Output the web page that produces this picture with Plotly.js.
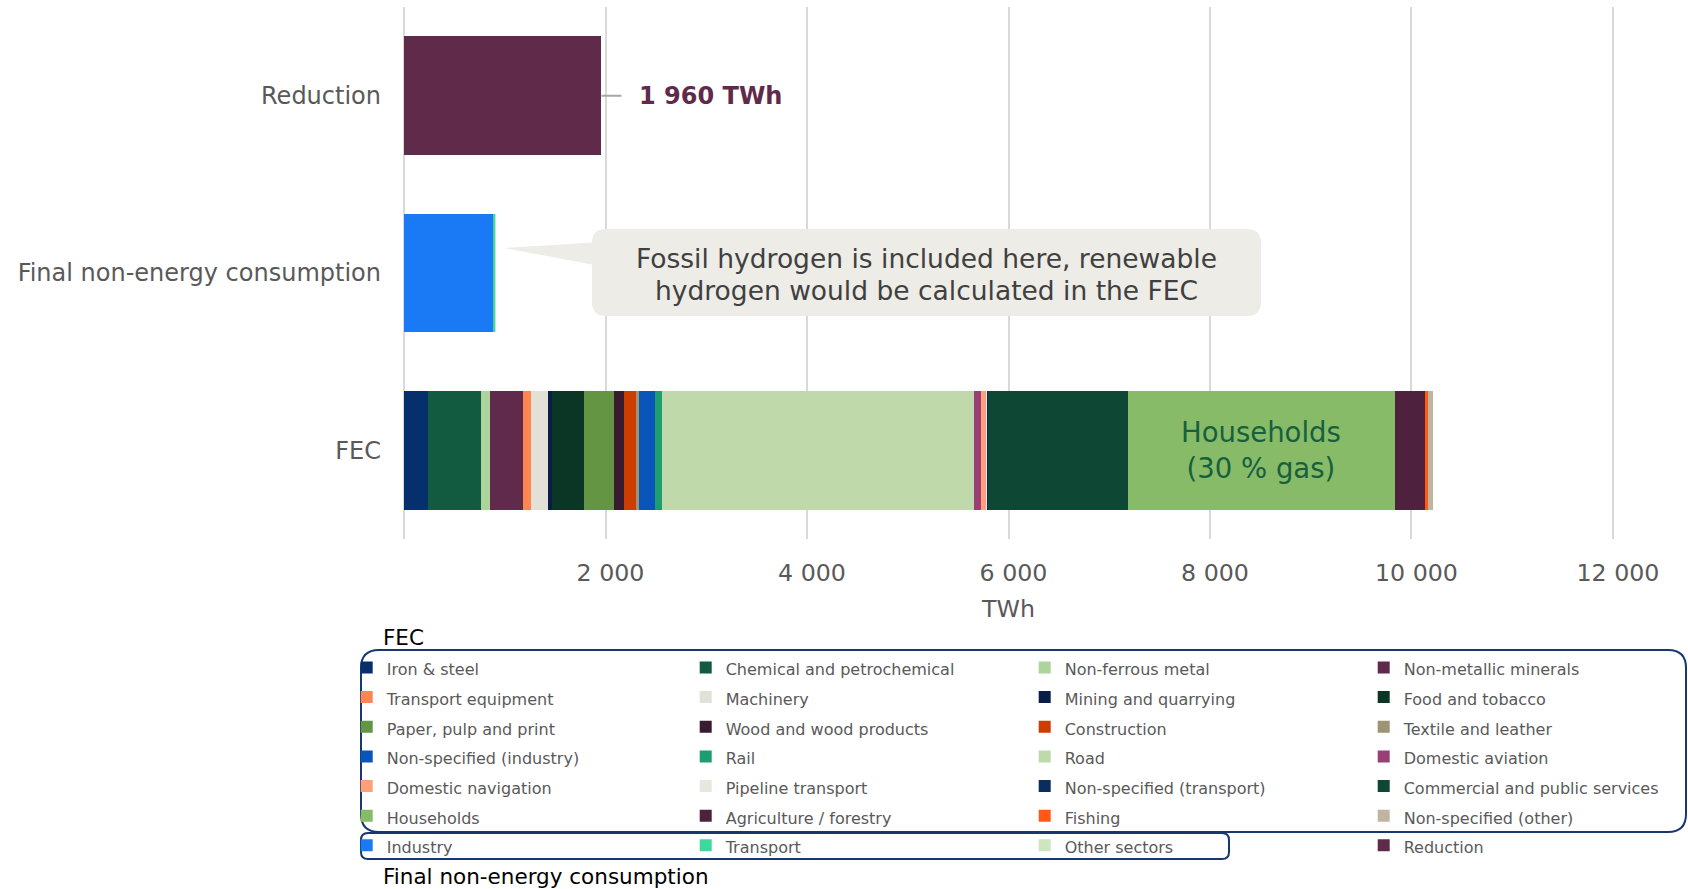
<!DOCTYPE html>
<html>
<head>
<meta charset="utf-8">
<script src="https://cdn.plot.ly/plotly-3.0.1.min.js"></script>
<style>html,body{margin:0;padding:0;background:#fff;}#chart{width:1688px;height:889px;}</style>
</head>
<body>
<div id="chart"></div>
<script>
// ---------- data ----------
const categories = ['FEC', 'Final non-energy consumption', 'Reduction'];

const fecSectors = ['Iron & steel', 'Chemical and petrochemical', 'Non-ferrous metal', 'Non-metallic minerals',
  'Transport equipment', 'Machinery', 'Mining and quarrying', 'Food and tobacco',
  'Paper, pulp and print', 'Wood and wood products', 'Construction', 'Textile and leather',
  'Non-specified (industry)', 'Rail', 'Road', 'Domestic aviation',
  'Domestic navigation', 'Pipeline transport', 'Non-specified (transport)', 'Commercial and public services',
  'Households', 'Agriculture / forestry', 'Fishing', 'Non-specified (other)'];
const fecValues = [238, 526, 89, 328, 79, 169, 40, 318, 298, 99, 119, 30, 159, 69, 3097, 69, 50, 10, 8, 1390, 2650, 308, 17, 50];
const fecColors = ['#05306B', '#125A40', '#ADD49A', '#5F2A4B', '#FF8650', '#E3E0D8', '#081E48', '#0B3625',
  '#649542', '#3A1A2E', '#CC3D00', '#9C9473', '#0A55BA', '#209D6E', '#BFD9AA', '#9A3F76',
  '#FFA07A', '#E8E6DF', '#0A2D5E', '#0E4733', '#88BB67', '#4E213F', '#FF5A14', '#BEB6A0'];

const nonEnergySectors = ['Industry', 'Transport', 'Other sectors'];
const nonEnergyValues = [886, 20, 3];
const nonEnergyColors = ['#1A7AF6', '#3DD89B', '#CFE5C2'];

const reductionName = ['Reduction'];
const reductionValues = [1960];
const reductionColors = ['#602A4B'];

const xTickValues = [0, 2000, 4000, 6000, 8000, 10000, 12000];
const xTickLabels = ['', '2 000', '4 000', '6 000', '8 000', '10 000', '12 000'];

const calloutLines = ['Fossil hydrogen is included here, renewable', 'hydrogen would be calculated in the FEC'];

// ---------- traces ----------
const legendName = n => '<span style="font-size:16px">' + n + '</span>';
const traces = [];
fecSectors.forEach((n, i) => traces.push({
  type: 'bar', orientation: 'h', y: [categories[0]], x: [fecValues[i]],
  name: legendName(n), marker: {color: fecColors[i], line: {width: 0}},
  hovertemplate: n + ': %{x} TWh<extra></extra>'
}));
nonEnergySectors.forEach((n, i) => traces.push({
  type: 'bar', orientation: 'h', y: [categories[1]], x: [nonEnergyValues[i]],
  name: legendName(n), marker: {color: nonEnergyColors[i], line: {width: 0}},
  hovertemplate: n + ': %{x} TWh<extra></extra>'
}));
reductionName.forEach((n, i) => traces.push({
  type: 'bar', orientation: 'h', y: [categories[2]], x: [reductionValues[i]],
  name: legendName(n), marker: {color: reductionColors[i], line: {width: 0}},
  hovertemplate: n + ': %{x} TWh<extra></extra>'
}));

// ---------- layout helpers (pixel -> paper) ----------
const L = 402, W = 1213, T = 7, H = 532;
const px = p => (p - L) / W;
const py = p => (T + H - p) / H;
function roundRect(x0, y0, x1, y1, r) {
  return `M${px(x0 + r)},${py(y0)} L${px(x1 - r)},${py(y0)} Q${px(x1)},${py(y0)} ${px(x1)},${py(y0 + r)} ` +
    `L${px(x1)},${py(y1 - r)} Q${px(x1)},${py(y1)} ${px(x1 - r)},${py(y1)} ` +
    `L${px(x0 + r)},${py(y1)} Q${px(x0)},${py(y1)} ${px(x0)},${py(y1 - r)} ` +
    `L${px(x0)},${py(y0 + r)} Q${px(x0)},${py(y0)} ${px(x0 + r)},${py(y0)} Z`;
}

const fmt = v => String(v).replace(/\B(?=(\d{3})+(?!\d))/g, ' ');
const hhIndex = fecSectors.indexOf('Households');
const hhStart = fecValues.slice(0, hhIndex).reduce((a, b) => a + b, 0);
const hhCenter = hhStart + fecValues[hhIndex] / 2;

const shapes = [
  // callout wedge + box
  {type: 'path', xref: 'paper', yref: 'paper', layer: 'above',
   path: `M${px(504)},${py(248)} L${px(600)},${py(242)} L${px(600)},${py(266)} Z`,
   fillcolor: '#EDECE7', line: {width: 0}},
  {type: 'path', xref: 'paper', yref: 'paper', layer: 'above',
   path: roundRect(592, 229, 1261, 316, 14), fillcolor: '#EDECE7', line: {width: 0}},
  // legend group boxes
  {type: 'path', xref: 'paper', yref: 'paper', layer: 'above',
   path: roundRect(361, 650, 1686, 832, 18), fillcolor: 'rgba(0,0,0,0)', line: {color: '#17386E', width: 2}},
  {type: 'path', xref: 'paper', yref: 'paper', layer: 'above',
   path: roundRect(361, 833, 1229, 859, 7), fillcolor: 'rgba(0,0,0,0)', line: {color: '#17386E', width: 2}}
];

const annotations = [
  {x: reductionValues[0], y: categories[2], xref: 'x', yref: 'y',
   text: '<b>' + fmt(reductionValues[0]) + ' TWh</b>', showarrow: true, arrowhead: 0,
   ax: 109, ay: 0, arrowcolor: '#A6A6A6', arrowwidth: 2, startstandoff: 16, standoff: 0,
   font: {size: 24, color: '#602A4B', family: 'DejaVu Sans'}},
  {x: hhCenter, y: categories[0], xref: 'x', yref: 'y', showarrow: false,
   text: 'Households<br>(30 % gas)', font: {size: 27.5, color: '#17603F', family: 'DejaVu Sans'}},
  {x: px(926.5), y: py(258), xref: 'paper', yref: 'paper', xanchor: 'center', yanchor: 'middle', showarrow: false,
   text: calloutLines[0], font: {size: 26.5, color: '#404040', family: 'DejaVu Sans'}},
  {x: px(926.5), y: py(290), xref: 'paper', yref: 'paper', xanchor: 'center', yanchor: 'middle', showarrow: false,
   text: calloutLines[1], font: {size: 26.5, color: '#404040', family: 'DejaVu Sans'}},
  {x: px(381), y: py(637), xref: 'paper', yref: 'paper', xanchor: 'left', yanchor: 'middle', showarrow: false,
   text: 'FEC', font: {size: 21.5, color: '#000000', family: 'DejaVu Sans'}},
  {x: px(381), y: py(876), xref: 'paper', yref: 'paper', xanchor: 'left', yanchor: 'middle', showarrow: false,
   text: 'Final non-energy consumption', font: {size: 21.5, color: '#000000', family: 'DejaVu Sans'}}
];

const layout = {
  width: 1688, height: 889,
  margin: {l: L, r: 1688 - L - W, t: T, b: 889 - T - H, pad: 0, autoexpand: false},
  paper_bgcolor: '#ffffff', plot_bgcolor: '#ffffff',
  barmode: 'stack', bargap: 0.33,
  font: {family: 'DejaVu Sans', color: '#595959'},
  showlegend: true,
  xaxis: {
    range: [-20, 12020], tickmode: 'array', tickvals: xTickValues, ticktext: xTickLabels,
    showgrid: true, gridcolor: '#D9D9D9', gridwidth: 1.7, zeroline: false, showline: false,
    ticks: '', tickfont: {size: 23.7, color: '#595959'}, ticklabelstandoff: 17, ticklabelshift: 5,
    title: {text: 'TWh', font: {size: 23.7, color: '#595959'}, standoff: 14}, fixedrange: true
  },
  yaxis: {
    type: 'category', categoryorder: 'array', categoryarray: categories, range: [-0.5, 2.5],
    showgrid: false, zeroline: false, showline: false, ticks: '',
    tickfont: {size: 24, color: '#595959'}, ticklabelstandoff: 20, fixedrange: true
  },
  legend: {
    orientation: 'h', x: px(346.7), xanchor: 'left', y: py(647.6), yanchor: 'top',
    entrywidth: 294, entrywidthmode: 'pixels', traceorder: 'normal',
    font: {size: 20.5, color: '#595959', family: 'DejaVu Sans'}, bgcolor: 'rgba(0,0,0,0)', borderwidth: 0
  },
  shapes: shapes,
  annotations: annotations
};

Plotly.newPlot('chart', traces, layout, {displayModeBar: false, staticPlot: false});
</script>
</body>
</html>
